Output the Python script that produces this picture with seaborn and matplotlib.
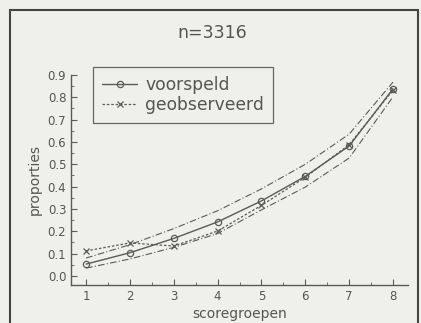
import pandas as pd
import seaborn as sns
from matplotlib import pyplot as plt
from matplotlib.patches import Rectangle
from matplotlib.ticker import MultipleLocator

# scoregroepen en proporties
groepen = [1, 2, 3, 4, 5, 6, 7, 8]
voorspeld = [0.053, 0.104, 0.168, 0.242, 0.336, 0.446, 0.582, 0.838]
geobserveerd = [0.112, 0.148, 0.134, 0.201, 0.316, 0.442, 0.588, 0.832]
boven = [0.080, 0.140, 0.212, 0.292, 0.390, 0.500, 0.635, 0.868]
onder = [0.035, 0.076, 0.128, 0.190, 0.296, 0.398, 0.528, 0.802]
yticks = [0.0, 0.1, 0.2, 0.3, 0.4, 0.5, 0.6, 0.7, 0.8, 0.9]

df = pd.DataFrame({'groep': groepen, 'voorspeld': voorspeld,
                   'geobserveerd': geobserveerd, 'boven': boven, 'onder': onder})

sns.set_style('white')
plt.rcParams['font.family'] = ['DejaVu Sans']
bg = '#efefeb'
lc = '#5a5a5a'
tc = '#555555'

fig = plt.figure(figsize=(4.21, 3.23), dpi=100, facecolor=bg)
ax = fig.add_axes([0.169, 0.118, 0.80, 0.650])
ax.set_facecolor(bg)

# betrouwbaarheidsband
for col in ['boven', 'onder']:
    sns.lineplot(data=df, x='groep', y=col, ax=ax, color=lc, linewidth=0.8,
                 linestyle=(0, (6, 2, 1, 2)))
sns.lineplot(data=df, x='groep', y='voorspeld', ax=ax, color=lc, linewidth=1.0,
             marker='o', markersize=4.5, markerfacecolor='none', markeredgecolor=lc,
             markeredgewidth=0.9, label='voorspeld')
sns.lineplot(data=df, x='groep', y='geobserveerd', ax=ax, color=lc, linewidth=0.9,
             linestyle=(0, (2, 1.5)), marker='x', markersize=4, markeredgecolor=lc,
             markeredgewidth=0.9, label='geobserveerd')

ax.set_xlim(0.66, 8.34)
ax.set_ylim(-0.04, 0.9)
ax.set_xticks(groepen)
ax.set_yticks(yticks)
ax.set_yticklabels([f'{v:.1f}' for v in yticks])
ax.xaxis.set_minor_locator(MultipleLocator(0.5))
ax.yaxis.set_minor_locator(MultipleLocator(0.05))
ax.tick_params(axis='both', which='major', direction='in', length=4, width=0.8,
               colors=lc, labelcolor=tc, labelsize=8.5, left=True, bottom=True)
ax.tick_params(axis='both', which='minor', direction='in', length=2, width=0.6,
               colors=lc, left=True, bottom=True)
sns.despine(ax=ax)
for s in ['left', 'bottom']:
    ax.spines[s].set_color(lc)
    ax.spines[s].set_linewidth(1.0)

ax.set_xlabel('scoregroepen', fontsize=10, color=tc, labelpad=3)
ax.set_ylabel('proporties', fontsize=10, color=tc, labelpad=4)
fig.text(0.505, 0.897, 'n=3316', ha='center', va='center', fontsize=12.5, color=tc)

leg = ax.legend(loc='upper left', bbox_to_anchor=(0.065, 1.038), borderaxespad=0,
                fontsize=12.3, frameon=True, fancybox=False, borderpad=0.55,
                handlelength=2.0, labelspacing=0.1, handletextpad=0.5, labelcolor=tc)
leg.get_frame().set_edgecolor('#444444')
leg.get_frame().set_linewidth(0.9)
leg.get_frame().set_facecolor(bg)

# kader rond de figuur
fig.patches.append(Rectangle((10 / 421, -0.02), 408 / 421, 1 - 10 / 323 + 0.02,
                             transform=fig.transFigure, fill=False,
                             edgecolor='#444444', linewidth=1.5))

fig.savefig('out.png', dpi=100, facecolor=bg)
